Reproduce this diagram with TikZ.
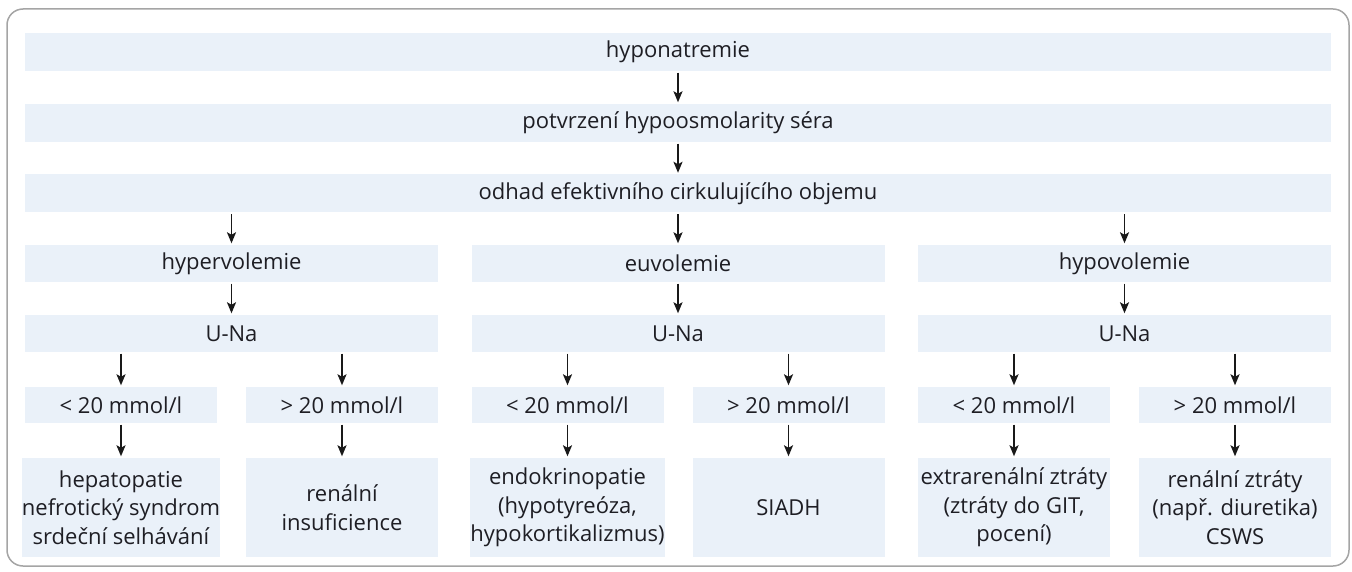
\documentclass[tikz,border=0pt]{standalone}
\usepackage{fontspec}
\setmainfont{Open Sans}
\usetikzlibrary{arrows.meta}
\definecolor{boxfill}{RGB}{234,241,249}
\definecolor{txt}{RGB}{30,30,36}
\definecolor{framegray}{RGB}{165,165,165}
\begin{document}
\begin{tikzpicture}[x=1pt,y=-1pt,
  bx/.style={fill=boxfill, inner sep=0pt, text=txt, font=\fontsize{22}{28.5}\selectfont, align=center},
  wide/.style={bx, minimum width=1306pt, minimum height=38pt},
  mid/.style={bx, minimum width=413pt, minimum height=37pt},
  small/.style={bx, minimum width=192pt, minimum height=36pt},
  leaf/.style={bx, minimum width=192pt, minimum height=99pt},
  arr/.style={-{Stealth[length=11pt,width=9pt,inset=2.5pt]}, line width=1.8pt, draw=black!90, shorten <=1.5pt, shorten >=1.5pt}
]
\useasboundingbox (0,0) rectangle (1352,572);
\draw[framegray, line width=1.5pt, rounded corners=16pt] (7,9) rectangle (1349,566);

\node[wide] (a) at (678,52) {hyponatremie};
\node[wide] (b) at (678,123) {potvrzení hypoosmolarity séra};
\node[wide] (c) at (678,193.5) {odhad efektivního cirkulujícího objemu};

\node[mid] (h1) at (231.5,263.5) {hypervolemie};
\node[mid] (h2) at (678,263.5) {euvolemie};
\node[mid] (h3) at (1124.5,263.5) {hypovolemie};

\node[mid] (u1) at (231.5,333.5) {U-Na};
\node[mid] (u2) at (678,333.5) {U-Na};
\node[mid] (u3) at (1124.5,333.5) {U-Na};

\node[small] (s11) at (121,405) {< 20 mmol/l};
\node[small] (s12) at (342,405) {> 20 mmol/l};
\node[small] (s21) at (567.5,405) {< 20 mmol/l};
\node[small] (s22) at (788.5,405) {> 20 mmol/l};
\node[small] (s31) at (1014,405) {< 20 mmol/l};
\node[small] (s32) at (1235,405) {> 20 mmol/l};

\node[leaf] (l11) at (121,507.5) {hepatopatie\\nefrotický syndrom\\srdeční selhávání};
\node[leaf] (l12) at (342,507.5) {renální\\insuficience};
\node[leaf] (l21) at (567.5,507.5) {endokrinopatie\\(hypotyreóza,\\hypokortikalizmus)};
\node[leaf] (l22) at (788.5,507.5) {SIADH};
\node[leaf] (l31) at (1014,507.5) {extrarenální ztráty\\(ztráty do GIT,\\pocení)};
\node[leaf] (l32) at (1235,507.5) {renální ztráty\\(např. diuretika)\\CSWS};

\draw[arr] (a.south) -- (b.north);
\draw[arr] (b.south) -- (c.north);
\foreach \i in {1,2,3} {
  \draw[arr] (h\i.north |- c.south) -- (h\i.north);
  \draw[arr] (h\i.south) -- (u\i.north);
  \foreach \j in {1,2} {
    \draw[arr] (s\i\j.north |- u\i.south) -- (s\i\j.north);
    \draw[arr] (s\i\j.south) -- (l\i\j.north);
  }
}
\end{tikzpicture}
\end{document}
